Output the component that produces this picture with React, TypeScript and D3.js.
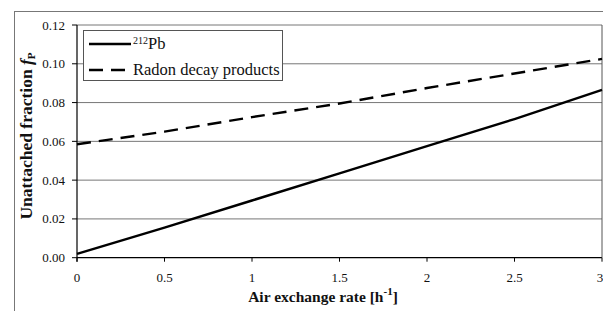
import * as d3 from "d3";
import React from "react";

const rates = [0, 0.5, 1, 1.5, 2, 2.5, 3];
const pb212 = [0.002, 0.0155, 0.0295, 0.0435, 0.0575, 0.0715, 0.0865];
const radonProducts = [0.0585, 0.065, 0.0725, 0.0795, 0.0875, 0.095, 0.1025];
const xTicks = [0, 0.5, 1, 1.5, 2, 2.5, 3];
const yTicks = [0, 0.02, 0.04, 0.06, 0.08, 0.1, 0.12];

const width = 603;
const height = 311;
const font = "'Times New Roman', Times, 'Liberation Serif', 'DejaVu Serif', serif";

export default function App() {
    const left = 77;
    const right = 602;
    const top = 25;
    const bottom = 257.7;

    const xScale = d3.scaleLinear().domain([0, 3]).range([left, right]);
    const yScale = d3.scaleLinear().domain([0, 0.12]).range([bottom, top]);

    const line = d3.line<number>()
        .x((_, i) => xScale(rates[i]))
        .y((d) => yScale(d));

    return (
        <svg
            width={width}
            height={height}
            style={{position: "absolute", left: 0, top: 0, fontFamily: font}}
        >
            <rect x={0} y={0} width={width} height={height} fill="white" />
            {/* outer frame */}
            <rect x={14.5} y={11.5} width={width} height={height} fill="none" stroke="#777" strokeWidth={1} />

            {yTicks.map((t) => (
                <g key={t}>
                    <line
                        x1={left}
                        x2={right}
                        y1={yScale(t)}
                        y2={yScale(t)}
                        stroke={t === 0 ? "#000" : "#777"}
                        strokeWidth={t === 0 ? 1.2 : 1}
                    />
                    <line x1={left - 5} x2={left} y1={yScale(t)} y2={yScale(t)} stroke="#000" />
                    <text
                        x={left - 12}
                        y={yScale(t) + 4.5}
                        textAnchor="end"
                        style={{fontFamily: font}}
                        fontSize={13}
                        fill="#111"
                    >
                        {t.toFixed(2)}
                    </text>
                </g>
            ))}
            <line x1={left} x2={left} y1={top} y2={bottom + 4} stroke="#000" strokeWidth={1.2} />
            <line x1={right} x2={right} y1={top} y2={bottom} stroke="#555" />

            {xTicks.map((t) => (
                <g key={t}>
                    <line x1={xScale(t)} x2={xScale(t)} y1={bottom} y2={bottom + 4} stroke="#000" />
                    <text
                        x={t === 3 ? xScale(t) - 2 : xScale(t)}
                        y={bottom + 24}
                        textAnchor="middle"
                        style={{fontFamily: font}}
                        fontSize={13}
                        fill="#111"
                    >
                        {String(t)}
                    </text>
                </g>
            ))}

            <path d={line(pb212) ?? ""} fill="none" stroke="#000" strokeWidth={2.4} />
            <path
                d={line(radonProducts) ?? ""}
                fill="none"
                stroke="#000"
                strokeWidth={2.4}
                strokeDasharray="14 8"
            />

            {/* legend */}
            <rect x={83.5} y={30.5} width={199} height={50} fill="white" stroke="#555" />
            <line x1={89} x2={131} y1={44} y2={44} stroke="#000" strokeWidth={2.4} />
            <text x={133} y={49} style={{fontFamily: font}} fontSize={16.5} fill="#111">
                <tspan fontSize={10} dy={-5}>212</tspan>
                <tspan dy={5}>Pb</tspan>
            </text>
            <line
                x1={89}
                x2={131}
                y1={70}
                y2={70}
                stroke="#000"
                strokeWidth={2.4}
                strokeDasharray="14 8"
            />
            <text x={133} y={75} style={{fontFamily: font}} fontSize={16.5} fill="#111">
                Radon decay products
            </text>

            {/* axis titles */}
            <text
                transform="translate(32, 136) rotate(-90)"
                textAnchor="middle"
                style={{fontFamily: font}}
                fontSize={17.5}
                fontWeight="bold"
                fill="#111"
            >
                Unattached fraction <tspan fontStyle="italic">f</tspan>
                <tspan fontSize={11} dy={3}>P</tspan>
            </text>
            <text
                x={323}
                y={302}
                textAnchor="middle"
                style={{fontFamily: font}}
                fontSize={15.5}
                fontWeight="bold"
                fill="#111"
            >
                Air exchange rate [h<tspan fontSize={11} dy={-7}>-1</tspan>
                <tspan dy={7}>]</tspan>
            </text>
        </svg>
    );
}
